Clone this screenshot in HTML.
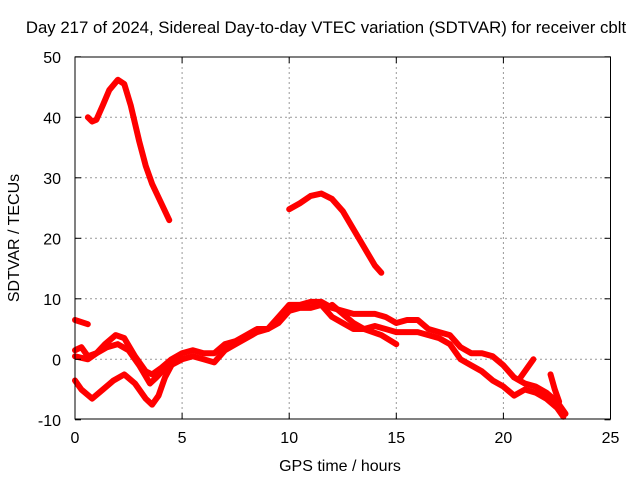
<!DOCTYPE html>
<html><head><meta charset="utf-8"><style>
body{margin:0;background:#fff}
svg text{font-family:"Liberation Sans",sans-serif;font-size:16px;fill:#000}
</style></head><body>
<svg id="chart" width="640" height="480" xmlns="http://www.w3.org/2000/svg">
<rect width="640" height="480" fill="#fff"/>
<text x="326" y="33" text-anchor="middle" style="font-size:16.8px">Day 217 of 2024, Sidereal Day-to-day VTEC variation (SDTVAR) for receiver cblt</text>
<g id="grid"></g>
<g id="series"></g>
<rect x="75" y="57" width="535.5" height="362" fill="none" stroke="#000" stroke-width="1"/>
<g id="ticks"></g>
<text x="340" y="471" text-anchor="middle">GPS time / hours</text>
<text x="19" y="238" text-anchor="middle" transform="rotate(-90 19 238)">SDTVAR / TECUs</text>
</svg>
<script>
const xTicks=[0,5,10,15,20,25];
const yTicks=[-10,0,10,20,30,40,50];
const seriesA=[[0.6,40],[0.8,39.3],[1.0,39.6],[1.3,42],[1.6,44.5],[2.0,46.2],[2.3,45.5],[2.6,42],[3.0,36],[3.3,32],[3.6,29],[4.0,26],[4.4,23]];
const seriesB=[[10,24.8],[10.5,25.8],[11,27],[11.5,27.4],[12,26.5],[12.5,24.5],[13,21.5],[13.5,18.5],[14,15.5],[14.3,14.3]];
const seriesC=[[0,6.5],[0.6,5.8]];
const seriesD=[[0,-3.5],[0.3,-5],[0.8,-6.5],[1.3,-5],[1.8,-3.5],[2.3,-2.5],[2.8,-4],[3.3,-6.5],[3.6,-7.5],[3.9,-6],[4.2,-3],[4.5,-1]];
const seriesE=[[0,1.5],[0.3,2],[0.6,0.5],[1,1],[1.4,2.5],[1.9,4],[2.3,3.5],[2.8,0.5],[3.3,-2],[3.6,-2.5],[4,-1.5],[4.5,0],[5,1],[5.5,1.5],[6,1],[6.5,1],[7,2.5],[7.5,3],[8,4],[8.5,5],[9,5],[9.5,7],[10,9],[10.5,9],[11,9.5],[11.5,9.5],[12,8.5],[12.5,8],[13,7.5],[13.5,7.5],[14,7.5],[14.5,7],[15,6],[15.5,6.5],[16,6.5],[16.5,5],[17,4.5],[17.5,4],[18,2],[18.5,1],[19,1],[19.5,0.5],[20,-1],[20.5,-3],[21,-4],[21.5,-4.5],[22,-5.5],[22.5,-7],[22.9,-9]];
const seriesF=[[0,0.5],[0.6,0],[1,1],[1.5,2],[2,2.5],[2.5,1.5],[3,-1],[3.5,-4],[3.8,-3],[4.2,-1.5],[5,0],[5.5,0.5],[6,0],[6.5,-0.5],[7,1.5],[7.5,2.5],[8,3.5],[8.5,4.5],[9,5],[9.5,6],[10,8],[10.5,8.5],[11,8.5],[11.5,9],[12,7],[12.5,6],[13,5],[13.5,5],[14,5.5],[14.5,5],[15,4.5],[15.5,4.5],[16,4.5],[16.5,4],[17,3.5],[17.5,2.5],[18,0],[18.5,-1],[19,-2],[19.5,-3.5],[20,-4.5],[20.5,-6],[21,-5],[21.5,-5.5],[22,-6.5],[22.5,-8],[22.8,-9.5]];
const seriesG=[[12,9],[13,6],[13.5,5],[14.3,4],[15,2.5]];
const seriesH=[[20.8,-3],[21.4,0]];
const seriesI=[[22.2,-2.5],[22.4,-5],[22.6,-7]];
const allSeries=[seriesA,seriesB,seriesC,seriesD,seriesE,seriesF,seriesG,seriesH,seriesI];
const X=v=>75+v*(535.5/25);
const Y=v=>359.3-v*6.05;
const NS="http://www.w3.org/2000/svg";
const g=document.getElementById('grid'),t=document.getElementById('ticks'),s=document.getElementById('series');
function mk(tag,attrs,parent){const e=document.createElementNS(NS,tag);for(const k in attrs)e.setAttribute(k,attrs[k]);parent.appendChild(e);return e;}
xTicks.forEach(v=>{
 if(v>0&&v<25){const l=mk('line',{x1:X(v),x2:X(v),y1:57,y2:419,stroke:'#999','stroke-dasharray':'2,3'},g);
 
 }
 mk('line',{x1:X(v),x2:X(v),y1:419,y2:413,stroke:'#000'},t);
 mk('line',{x1:X(v),x2:X(v),y1:57,y2:63,stroke:'#000'},t);
 const tx=mk('text',{x:X(v),y:443,'text-anchor':'middle'},t);tx.textContent=v;
 
 
});
yTicks.forEach(v=>{
 if(v>-10&&v<50){const l=mk('line',{x1:75,x2:610.5,y1:Y(v),y2:Y(v),stroke:'#999','stroke-dasharray':'2,3'},g);
 
 }
 mk('line',{x1:75,x2:81,y1:Y(v),y2:Y(v),stroke:'#000'},t);
 mk('line',{x1:610.5,x2:604.5,y1:Y(v),y2:Y(v),stroke:'#000'},t);
 const tx=mk('text',{x:61,y:Y(v)+6,'text-anchor':'end'},t);tx.textContent=v;
 
 
});
allSeries.forEach(d=>{
 const p=mk('polyline',{points:d.map(q=>X(q[0])+','+Y(q[1])).join(' '),fill:'none',stroke:'#f00','stroke-width':6,'stroke-linejoin':'round','stroke-linecap':'round'},s);
 
 
});
</script>
</body></html>
